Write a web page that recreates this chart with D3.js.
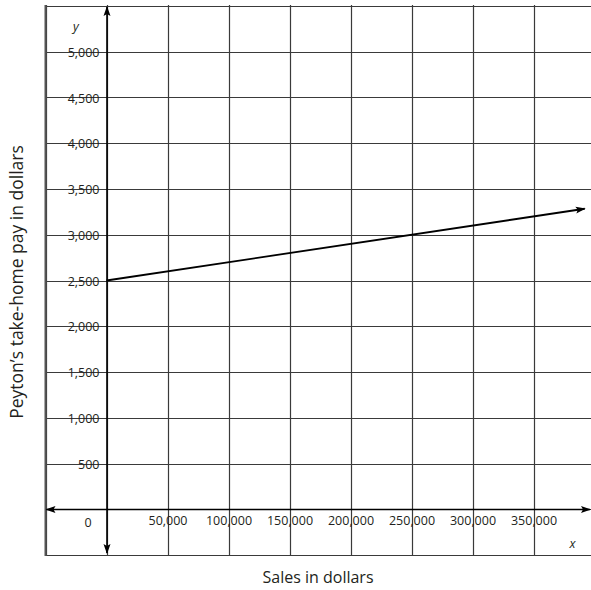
<!DOCTYPE html>
<html><head><meta charset="utf-8">
<script src="https://cdn.jsdelivr.net/npm/d3@7"></script>
<style>
body{margin:0;background:#fff;}
text{font-family:"Open Sans",sans-serif;fill:#231f20;}
</style></head>
<body><svg id="c" width="591" height="590"></svg>
<script>
// Data
const xTicks = [50000,100000,150000,200000,250000,300000,350000];
const yTicks = [500,1000,1500,2000,2500,3000,3500,4000,4500,5000];
const salesX = [0, 392000];
const payY = [2500, 3284];
const xTitle = "Sales in dollars";
const yTitle = "Peyton\u2019s take-home pay in dollars";

const svg = d3.select("#c");
const x = d3.scaleLinear().domain([-50000,400000]).range([45.5,594.5]);
const y = d3.scaleLinear().domain([-500,5500]).range([555,6]);

const defs = svg.append("defs");
defs.append("marker").attr("id","arr").attr("viewBox","0 0 10 10").attr("refX",9).attr("refY",5)
  .attr("markerWidth",10).attr("markerHeight",10).attr("markerUnits","userSpaceOnUse").attr("orient","auto-start-reverse")
  .append("path").attr("d","M0,1.5 L10,5 L0,8.5 L2,5 Z").attr("fill","#000");

// grid
const gx = d3.range(-50000,400001,50000);
const gy = d3.range(-500,5501,500);
const grid = svg.append("g").attr("stroke","#3a3a3a").attr("stroke-width",1.2);
grid.selectAll("line.v").data(gx).join("line").attr("class","v")
  .attr("x1",d=>Math.round(x(d))+0.5).attr("x2",d=>Math.round(x(d))+0.5).attr("y1",y(-500)+0.5).attr("y2",y(5500)-1);
grid.selectAll("line.h").data(gy).join("line").attr("class","h")
  .attr("y1",d=>Math.round(y(d))+0.5).attr("y2",d=>Math.round(y(d))+0.5).attr("x1",x(-50000)).attr("x2",x(400000));
// left border thicker
svg.append("line").attr("x1",x(-50000)).attr("x2",x(-50000)).attr("y1",y(5500)-1).attr("y2",y(-500)+1)
  .attr("stroke","#555").attr("stroke-width",2);

// axes
const ax = svg.append("g").attr("stroke","#000").attr("stroke-width",1.6);
ax.append("line").attr("x1",x(0)+0.5).attr("x2",x(0)+0.5).attr("y1",y(-500)-2).attr("y2",y(5500)+1)
  .attr("marker-end","url(#arr)").attr("marker-start","url(#arr)");
ax.append("line").attr("y1",Math.round(y(0))+0.5).attr("y2",Math.round(y(0))+0.5).attr("x1",x(-50000)+1).attr("x2",590)
  .attr("marker-end","url(#arr)").attr("marker-start","url(#arr)");

// tick labels via axes
const yAxis = d3.axisLeft(y).tickValues(yTicks).tickFormat(d3.format(",")).tickSize(0).tickPadding(7);
const ya = svg.append("g").attr("transform",`translate(${x(0)},0)`).call(yAxis);
ya.select(".domain").remove();
ya.selectAll("text").attr("font-size",12.5).attr("font-family","Open Sans").attr("fill","#231f20").attr("dy","0.36em");

const xAxis = d3.axisBottom(x).tickValues(xTicks).tickFormat(d3.format(",")).tickSize(0).tickPadding(7);
const xa = svg.append("g").attr("transform",`translate(0,${y(0)})`).call(xAxis);
xa.select(".domain").remove();
xa.selectAll("text").attr("font-size",12.5).attr("font-family","Open Sans").attr("fill","#231f20");

svg.append("text").attr("x",x(-15000)).attr("y",y(0)+18).attr("text-anchor","middle").attr("font-size",12.5).text("0");
svg.append("text").attr("x",x(-25000)).attr("y",y(5250)+2).attr("text-anchor","middle").attr("font-size",12.5).attr("font-style","italic").text("y");
svg.append("text").attr("x",x(382000)).attr("y",y(-375)+4).attr("text-anchor","middle").attr("font-size",12.5).attr("font-style","italic").text("x");

// data line
const line = d3.line().x(d=>x(d[0])).y(d=>y(d[1]));
svg.append("path").datum(d3.zip(salesX,payY)).attr("d",line).attr("fill","none").attr("stroke","#000")
  .attr("stroke-width",1.8).attr("marker-end","url(#arr)");

// titles
svg.append("text").attr("x",318).attr("y",583).attr("text-anchor","middle").attr("font-size",16).text(xTitle);
svg.append("text").attr("transform",`translate(23,${282}) rotate(-90)`).attr("text-anchor","middle").attr("font-size",17.5).text(yTitle);
</script></body></html>
